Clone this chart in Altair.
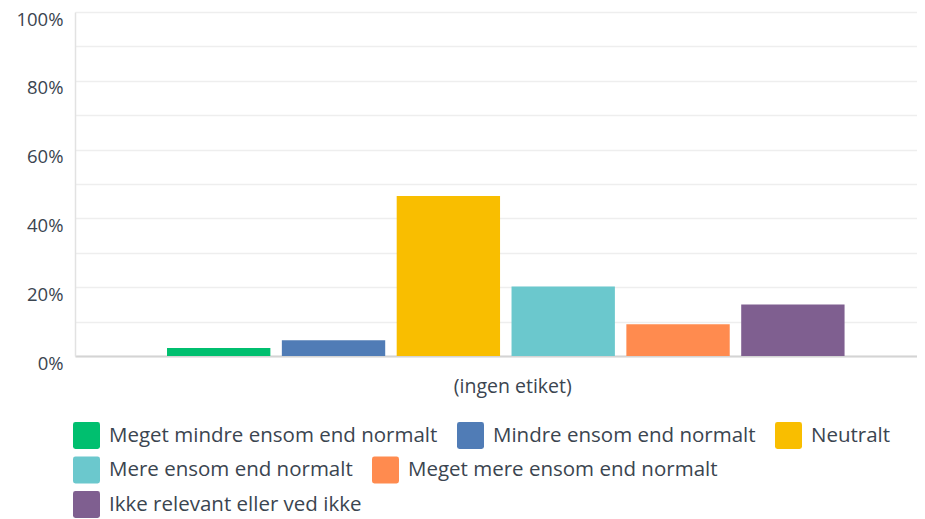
import altair as alt
import pandas as pd

categories = ["(ingen etiket)"] * 6
series = [
    "Meget mindre ensom end normalt",
    "Mindre ensom end normalt",
    "Neutralt",
    "Mere ensom end normalt",
    "Meget mere ensom end normalt",
    "Ikke relevant eller ved ikke",
]
values = [2.3, 4.6, 46.5, 20.2, 9.2, 15.0]
colors = ["#00bf6f", "#507cb6", "#f9be00", "#6bc8cd", "#ff8b4f", "#7f5f90"]
y_ticks = list(range(0, 101, 10))
# legend rows as in the reference (flowing layout)
legend_rows = [[0, 1, 2], [3, 4], [5]]

df = pd.DataFrame({"kategori": categories, "serie": series, "værdi": values})

FONT = "Open Sans"
TXT = "#3b4550"

rounded_square = (
    "M-0.82,-1 H0.82 Q1,-1 1,-0.82 V0.82 Q1,1 0.82,1 H-0.82 "
    "Q-1,1 -1,0.82 V-0.82 Q-1,-1 -0.82,-1 Z"
)

x_enc = alt.X(
    "kategori:N",
    title=None,
    scale=alt.Scale(paddingInner=0, paddingOuter=0.111, align=0.564),
    axis=alt.Axis(
        labelAngle=0,
        ticks=False,
        labelPadding=21,
        labelOffset=7,
        labelFontSize=19.5,
        labelFont=FONT,
        labelColor=TXT,
        domainColor="#d4d4d4",
        domainWidth=2,
        grid=False,
    ),
)
xoff_enc = alt.XOffset(
    "serie:N",
    sort=series,
    scale=alt.Scale(domain=series, paddingInner=0.1, paddingOuter=0.05),
)
y_enc = alt.Y(
    "værdi:Q",
    title=None,
    scale=alt.Scale(domain=[0, 100], nice=False),
    axis=alt.Axis(
        values=y_ticks,
        labelExpr="datum.value % 20 == 0 ? datum.value + '%' : ''",
        ticks=False,
        labelPadding=12,
        labelOffset=7,
        labelFontSize=18.5,
        labelFont=FONT,
        labelColor=TXT,
        domainColor="#e2e2e2",
        domainWidth=1.5,
        gridColor="#eeeeee",
        gridWidth=1.5,
    ),
)

row_tops = [410, 444.5, 479]
layers = []
for r, idx in enumerate(legend_rows):
    names = [series[i] for i in idx]
    cols = [colors[i] for i in idx]
    layer = (
        alt.Chart(df)
        .transform_filter(alt.FieldOneOfPredicate(field="serie", oneOf=names))
        .mark_bar()
        .encode(
            x=x_enc,
            xOffset=xoff_enc,
            y=y_enc,
            color=alt.Color(
                "serie:N",
                sort=names,
                scale=alt.Scale(domain=names, range=cols),
                legend=alt.Legend(
                    title=None,
                    orient="none",
                    legendX=-2,
                    legendY=row_tops[r],
                    direction="horizontal",
                    columnPadding=19,
                    padding=0,
                    symbolType=rounded_square,
                    symbolSize=729,
                    symbolStrokeWidth=0,
                    symbolOpacity=1,
                    labelFontSize=20.5,
                    labelFont=FONT,
                    labelColor=TXT,
                    labelOffset=9,
                    labelLimit=400,
                ),
            ),
        )
    )
    layers.append(layer)

chart = (
    alt.layer(*layers)
    .resolve_scale(color="independent")
    .properties(
        width=842,
        height=344,
        autosize=alt.AutoSizeParams(type="none"),
        padding={"left": 67, "top": 4, "right": 0, "bottom": 163},
    )
    .configure_view(stroke=None)
)

chart.save("out.html", embed_options={"renderer": "svg", "actions": False})
